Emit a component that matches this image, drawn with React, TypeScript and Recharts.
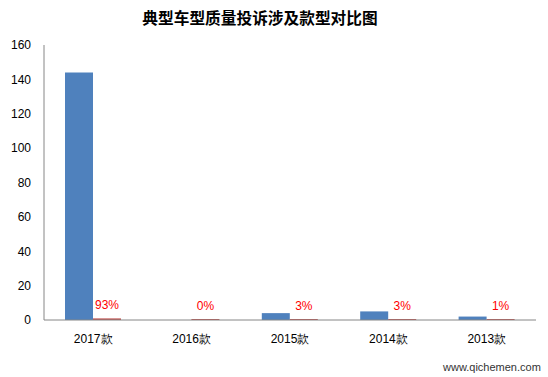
import React from 'react';
import { BarChart, Bar, XAxis, YAxis, LabelList } from 'recharts';

const categories = ['2017款', '2016款', '2015款', '2014款', '2013款'];
const complaints = [144, 0, 4, 5, 2];
const shares = [0.93, 0, 0.03, 0.03, 0.01];
const yTicks = [0, 20, 40, 60, 80, 100, 120, 140, 160];

const data = categories.map((c, i) => ({ name: c, count: complaints[i], share: shares[i] }));

const tickStyle = { fontFamily: 'Liberation Sans, Arial, sans-serif', fontSize: 12, fill: '#000' };

export default function App() {
  return (
    <div style={{ position: 'absolute', left: 0, top: 0, width: 548, height: 377, background: '#fff' }}>
      <div style={{ position: 'absolute', left: 0, top: 6, width: 520, textAlign: 'center', fontFamily: '"Noto Sans CJK SC", sans-serif', fontWeight: 'bold', fontSize: 15.7, color: '#000' }}>
        典型车型质量投诉涉及款型对比图
      </div>
      <BarChart width={548} height={377} data={data} margin={{ top: 45, right: 12, left: 0, bottom: 27 }} barSize={28} barGap={0}>
        <XAxis dataKey="name" tickLine={false} axisLine={{ stroke: '#868686' }} tick={tickStyle} tickMargin={8} height={30} interval={0} />
        <YAxis domain={[0, 160]} ticks={yTicks} width={44} tickLine={false} axisLine={{ stroke: '#868686' }} tick={tickStyle} tickMargin={7} />
        <Bar dataKey="count" fill="#4F81BD" isAnimationActive={false} />
        <Bar dataKey="share" fill="#C0504D" minPointSize={1} isAnimationActive={false}>
          <LabelList dataKey="share" position="top" offset={9} formatter={(v: number) => `${Math.round(v * 100)}%`} style={{ fill: '#FF0000', fontSize: 12, fontFamily: 'Liberation Sans, Arial, sans-serif' }} />
        </Bar>
      </BarChart>
      <div style={{ position: 'absolute', left: 443, top: 361, fontFamily: 'Liberation Sans, Arial, sans-serif', fontSize: 11, color: '#333' }}>
        www.qichemen.com
      </div>
    </div>
  );
}
